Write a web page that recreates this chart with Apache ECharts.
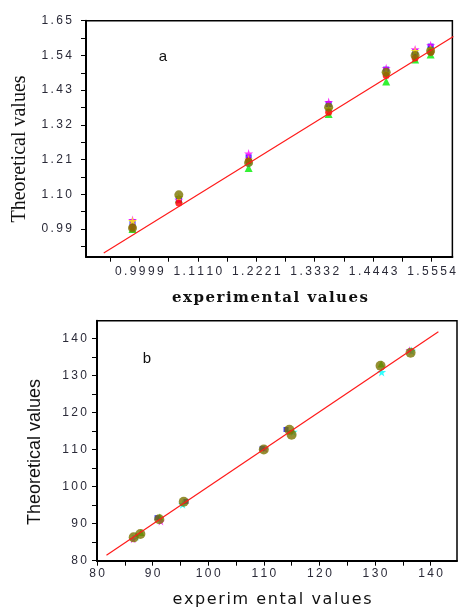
<!DOCTYPE html>
<html><head><meta charset="utf-8">
<script src="https://cdn.jsdelivr.net/npm/echarts@6/dist/echarts.min.js"></script>
<style>html,body{margin:0;padding:0;background:#fff}#c{width:459px;height:608px}</style>
</head><body><div id="c"></div>
<script>
// ---- Chart a data ----
var xLabelsA = [0.9999, 1.1110, 1.2221, 1.3332, 1.4443, 1.5554];
var yLabelsA = [0.99, 1.10, 1.21, 1.32, 1.43, 1.54, 1.65];
var xA = [0.987, 1.075, 1.2076, 1.3597, 1.469, 1.524, 1.5535];
var aRed     = [0.995, 1.072, 1.205, 1.360, 1.476, 1.532, 1.550];
var aGreen   = [0.990, 1.084, 1.183, 1.354, 1.457, 1.527, 1.543];
var aBlue    = [1.012, 1.085, 1.217, 1.386, 1.495, 1.550, 1.568];
var aCyan    = [1.000, 1.088, 1.195, 1.365, 1.480, 1.545, 1.565];
var aMagenta = [1.018, 1.082, 1.229, 1.392, 1.499, 1.559, 1.572];
var aYellow  = [1.015, 1.090, 1.210, 1.370, 1.485, 1.554, 1.560];
var aOlive   = [0.993, 1.098, 1.200, 1.376, 1.487, 1.540, 1.554];
var fitA = [[0.9323, 0.914], [1.5967, 1.600]];

// ---- Chart b data ----
var xLabelsB = [80, 90, 100, 110, 120, 130, 140];
var yLabelsB = [80, 90, 100, 110, 120, 130, 140];
var bOlive   = [[86.6,86.3],[87.8,87.2],[91.2,91.2],[95.6,95.9],[110,110],[114.6,115.3],[115,114],[131,132.6],[136.4,136.1]];
var bCyan    = [[131.2,130.9],[95.4,95.2],[136.6,136.6],[87,86.6],[115.3,114.8]];
var bMagenta = [[86.5,85.8],[91.5,90.6],[136.2,136.8],[110.2,110.2]];
var bBlue    = [[90.8,91.6],[96,96],[114,115.4],[109.7,110.3]];
var bGreen   = [[91.3,91.8],[87.9,87.6],[131.1,133.1]];
var fitB = [[81.7, 81.5], [141.4, 141.8]];

function range(a, b, s) { var r = []; for (var v = a; v <= b + 1e-9; v += s) r.push(+v.toFixed(6)); return r; }
function spaced(s) { return s.split('').join('\u2009'); }
function hair(s) { return s.split('').join('\u200A'); }
function zip(xs, ys) { return xs.map(function (x, i) { return [x, ys[i]]; }); }
var star = 'path://M50,0 L61,35 L98,35 L68,57 L79,91 L50,70 L21,91 L32,57 L2,35 L39,35 Z';
var labelColor = '#2a2a38';
var lblFont = { color: labelColor, fontFamily: 'Liberation Sans', fontSize: 12 };

function axis(extra) {
  return Object.assign({
    type: 'value', scale: true,
    splitLine: { show: false },
    axisLine: { show: true, onZero: false, lineStyle: { color: '#000', width: 2 } }
  }, extra);
}

var chart = echarts.init(document.getElementById('c'), null, { renderer: 'canvas' });
var option = {
  animation: false,
  backgroundColor: '#fff',
  grid: [
    { left: 86, top: 20.7, right: 2, height: 236, show: true, borderColor: '#000', borderWidth: 1.5 },
    { left: 97, top: 320.7, right: 2, height: 240, show: true, borderColor: '#000', borderWidth: 1.5 }
  ],
  xAxis: [
    axis({ gridIndex: 0, min: 0.8986, max: 1.5948,
      axisTick: { show: true, length: 5, lineStyle: { color: '#000' }, customValues: range(0.94435, 1.5554, 0.05555) },
      axisLabel: Object.assign({ margin: 9, customValues: xLabelsA, formatter: function (v) { return spaced(v.toFixed(4)); } }, lblFont) }),
    axis({ gridIndex: 1, min: 80, max: 144.75,
      axisTick: { show: true, length: 5, lineStyle: { color: '#000' }, customValues: range(80, 140, 5) },
      axisLabel: Object.assign({ margin: 7, customValues: xLabelsB, formatter: function (v) { return spaced(String(Math.round(v))); } }, lblFont) })
  ],
  yAxis: [
    axis({ gridIndex: 0, min: 0.902, max: 1.65,
      axisTick: { show: true, length: 5, lineStyle: { color: '#000' }, customValues: range(0.935, 1.65, 0.055) },
      axisLabel: Object.assign({ margin: 14, customValues: yLabelsA, formatter: function (v) { return spaced(v.toFixed(2)); } }, lblFont) }),
    axis({ gridIndex: 1, min: 80, max: 144.75,
      axisTick: { show: true, length: 5, lineStyle: { color: '#000' }, customValues: range(80, 140, 5) },
      axisLabel: Object.assign({ margin: 10, customValues: yLabelsB, formatter: function (v) { return spaced(String(Math.round(v))); } }, lblFont) })
  ],
  series: [
    { type: 'scatter', xAxisIndex: 0, yAxisIndex: 0, data: zip(xA, aGreen), symbol: 'triangle', symbolSize: 8, itemStyle: { color: '#00ee00' } },
    { type: 'scatter', xAxisIndex: 0, yAxisIndex: 0, data: zip(xA, aCyan), symbol: 'diamond', symbolSize: 7, itemStyle: { color: '#00ffff' } },
    { type: 'scatter', xAxisIndex: 0, yAxisIndex: 0, data: zip(xA, aBlue), symbol: 'rect', symbolSize: 6, itemStyle: { color: '#0000ff' } },
    { type: 'scatter', xAxisIndex: 0, yAxisIndex: 0, data: zip(xA, aMagenta), symbol: star, symbolSize: 9, itemStyle: { color: '#ff00ff' } },
    { type: 'scatter', xAxisIndex: 0, yAxisIndex: 0, data: zip(xA, aYellow), symbol: star, symbolSize: 9, itemStyle: { color: '#ffff00' } },
    { type: 'scatter', xAxisIndex: 0, yAxisIndex: 0, data: zip(xA, aRed), symbol: 'circle', symbolSize: 7, itemStyle: { color: '#ff0000' } },
    { type: 'scatter', xAxisIndex: 0, yAxisIndex: 0, data: zip(xA, aOlive), symbol: 'circle', symbolSize: 9, itemStyle: { color: '#7a7400' } },
    { type: 'line', xAxisIndex: 0, yAxisIndex: 0, data: fitA, symbol: 'none', z: 5, lineStyle: { color: '#ff1a1a', width: 1.2 } },

    { type: 'scatter', xAxisIndex: 1, yAxisIndex: 1, data: bGreen, symbol: 'triangle', symbolSize: 7, itemStyle: { color: '#00ee00' } },
    { type: 'scatter', xAxisIndex: 1, yAxisIndex: 1, data: bCyan, symbol: star, symbolSize: 9, itemStyle: { color: '#00ffff' } },
    { type: 'scatter', xAxisIndex: 1, yAxisIndex: 1, data: bMagenta, symbol: star, symbolSize: 8, itemStyle: { color: '#ff00ff' } },
    { type: 'scatter', xAxisIndex: 1, yAxisIndex: 1, data: bBlue, symbol: 'rect', symbolSize: 5, itemStyle: { color: '#0000ff' } },
    { type: 'scatter', xAxisIndex: 1, yAxisIndex: 1, data: bOlive, symbol: 'circle', symbolSize: 10, itemStyle: { color: '#7a7400' } },
    { type: 'line', xAxisIndex: 1, yAxisIndex: 1, data: fitB, symbol: 'none', z: 5, lineStyle: { color: '#ff1a1a', width: 1.2 } }
  ],
  graphic: [
    { type: 'text', x: 20, y: 149, rotation: Math.PI / 2, style: { text: 'Theoretical values', font: '20px "Liberation Serif"', fill: '#111', align: 'center', verticalAlign: 'middle' } },
    { type: 'text', x: 270, y: 298, style: { text: hair('experimental values'), font: 'bold 15px "DejaVu Serif"', fill: '#111', align: 'center', verticalAlign: 'middle' } },
    { type: 'text', x: 163, y: 57, style: { text: 'a', font: '15px "Liberation Sans"', fill: '#111', align: 'center', verticalAlign: 'middle' } },
    { type: 'text', x: 35, y: 452, rotation: Math.PI / 2, style: { text: 'Theoretical values', font: '18px "Liberation Sans"', fill: '#111', align: 'center', verticalAlign: 'middle' } },
    { type: 'text', x: 272, y: 600, style: { text: hair('experim ental values'), font: '16px "DejaVu Sans"', fill: '#111', align: 'center', verticalAlign: 'middle' } },
    { type: 'text', x: 147, y: 359, style: { text: 'b', font: '15px "Liberation Sans"', fill: '#111', align: 'center', verticalAlign: 'middle' } }
  ]
};
chart.setOption(option);
</script></body></html>
